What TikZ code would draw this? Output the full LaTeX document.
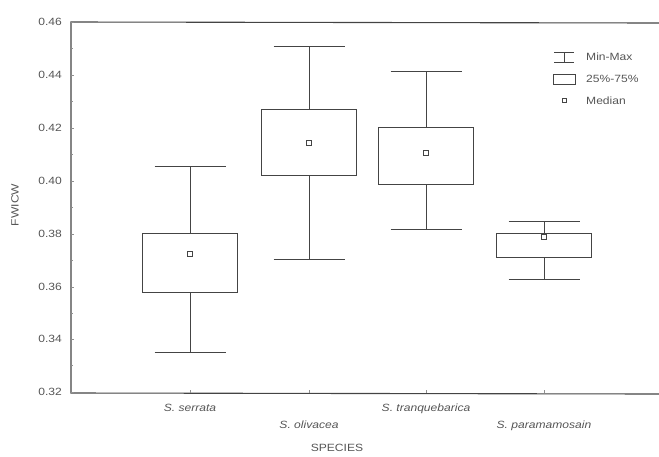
\documentclass[tikz,border=0pt]{standalone}
\usepackage{fontspec}
\setmainfont[FakeStretch=1.15]{Liberation Sans}
\definecolor{ink}{HTML}{444444}
\definecolor{txt}{HTML}{555555}
\tikzset{
  axisline/.style={draw=ink, line width=1.1pt},
  plotline/.style={draw=ink, line width=1pt},
  ticklab/.style={anchor=east, text=txt, font=\fontsize{10.5}{11}\selectfont, inner sep=0pt},
  catlab/.style={anchor=center, text=txt, font=\fontsize{10.5}{11}\selectfont\itshape, inner sep=0pt},
  leglab/.style={anchor=west, text=txt, font=\fontsize{10.5}{11}\selectfont, inner sep=0pt},
  medsq/.style={draw=ink, line width=0.9pt, fill=white, minimum size=5pt, inner sep=0pt, shape=rectangle},
  tickmark/.style={draw=ink!60, line width=0.4pt}
}
\newcommand\bxplot[7]{%
  % #1 name, #2 cx, #3 capTop, #4 boxTop, #5 boxBot, #6 capBot, #7 median
  \coordinate (#1-ct) at (#2,#3);
  \coordinate (#1-bt) at (#2,#4);
  \coordinate (#1-bb) at (#2,#5);
  \coordinate (#1-cb) at (#2,#6);
  \draw[plotline] (#1-ct) -- (#1-bt);
  \draw[plotline] (#1-bb) -- (#1-cb);
  \draw[plotline] ([xshift=-35.5pt]#1-ct) -- ([xshift=35.5pt]#1-ct);
  \draw[plotline] ([xshift=-35.5pt]#1-cb) -- ([xshift=35.5pt]#1-cb);
  \draw[plotline] ([xshift=-47.5pt]#1-bt) rectangle ([xshift=47.5pt]#1-bb);
  \node[medsq] (#1-med) at (#2,#7) {};
}
\begin{document}
\begin{tikzpicture}[x=1pt,y=-1pt]
\useasboundingbox (0,0) rectangle (659,456);
% frame
\coordinate (tl) at (71,22);
\coordinate (bl) at (71,393);
\coordinate (tr) at (659,23);
\coordinate (br) at (659,394);
\draw[axisline] (tr) -- (tl) -- (bl) -- (br);
% y ticks and labels
\foreach \v/\y in {0.46/22,0.44/75,0.42/128,0.40/181,0.38/234,0.36/287,0.34/339,0.32/392}{
  \node[ticklab] (y\v) at (62,\y) {\v};
  \draw[tickmark] (71,\y) -- (74,\y);
}
\foreach \y in {48.5,101.5,154.5,207.5,260.5,313,365.5}{
  \draw[tickmark] (71,\y) -- (73,\y);
}
% x ticks
\foreach \x in {190,309,426,544}{
  \draw[tickmark] (\x,393) -- (\x,390);
}
\node[text=txt, font=\fontsize{10.5}{11}\selectfont, rotate=90, inner sep=0pt] (ylab) at (15,205) {FWICW};
% boxplots
\bxplot{b1}{190}{166}{233}{292}{352}{254}
\bxplot{b2}{309}{46}{109}{175}{259}{143}
\bxplot{b3}{426}{71}{127}{184}{229}{153}
\bxplot{b4}{544}{221}{233}{257}{279}{237}
% category labels
\node[catlab] (c1) at (190,408) {S. serrata};
\node[catlab] (c2) at (309,425) {S. olivacea};
\node[catlab] (c3) at (426,409) {S. tranquebarica};
\node[catlab] (c4) at (544,426) {S. paramamosain};
\node[text=txt, font=\fontsize{10.5}{11}\selectfont, inner sep=0pt] (xlab) at (337,448) {SPECIES};
% legend
\coordinate (lg1) at (564,52);
\coordinate (lg1b) at (564,62);
\draw[plotline, line width=0.8pt] ([xshift=-10pt]lg1) -- ([xshift=10pt]lg1);
\draw[plotline, line width=0.8pt] ([xshift=-10pt]lg1b) -- ([xshift=10pt]lg1b);
\draw[plotline, line width=0.8pt] (lg1) -- (lg1b);
\node[leglab] (l1) at (586,57) {Min-Max};
\draw[plotline, line width=0.8pt] (553,74) rectangle (575,84);
\node[leglab] (l2) at (586,79) {25\%-75\%};
\node[medsq, minimum size=4pt, line width=0.7pt] (lm) at (564,100) {};
\node[leglab] (l3) at (586,101) {Median};
\end{tikzpicture}
\end{document}
